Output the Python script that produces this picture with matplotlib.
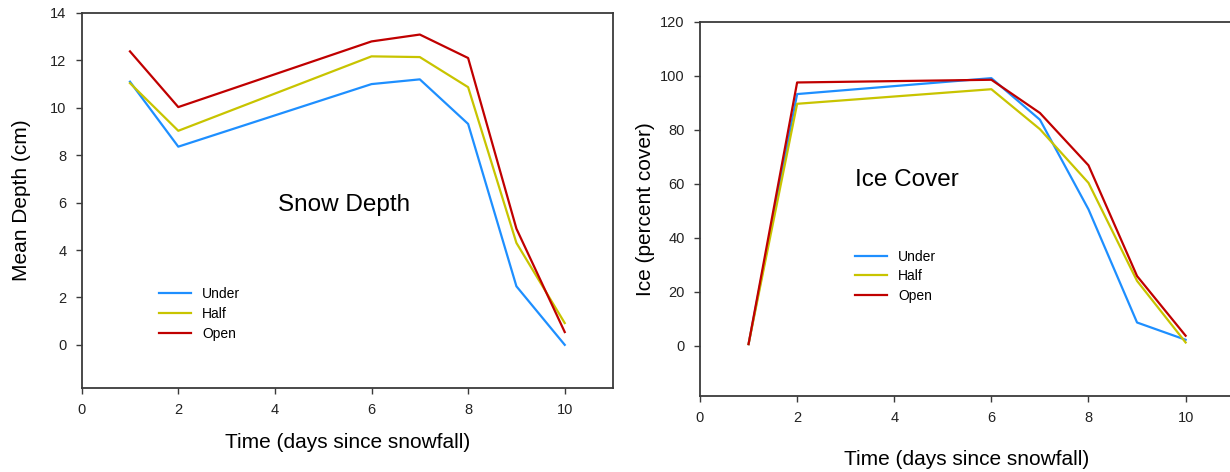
import matplotlib
matplotlib.use("Agg")
import matplotlib.pyplot as plt

plt.rcParams['font.family'] = ['Liberation Sans', 'DejaVu Sans']

# Days sampled
days = [1, 2, 6, 7, 8, 9, 10]

# Snow depth (cm)
depth_under = [11.1, 8.36, 11.0, 11.2, 9.32, 2.47, 0.0]
depth_half = [11.04, 9.03, 12.17, 12.14, 10.87, 4.3, 0.92]
depth_open = [12.38, 10.03, 12.8, 13.09, 12.1, 4.9, 0.54]

# Ice cover (percent)
ice_under = [0.6, 93.2, 99.1, 83.7, 50.5, 8.6, 2.2]
ice_half = [0.6, 89.6, 95.0, 80.2, 60.3, 24.0, 1.2]
ice_open = [0.6, 97.5, 98.5, 86.2, 66.8, 25.8, 3.7]

labels = ["Under", "Half", "Open"]
colors = ["#1E8FFF", "#C8C400", "#C00000"]

fig = plt.figure(figsize=(12.3, 4.72), dpi=100)
ax1 = fig.add_axes([0.0664, 0.178, 0.432, 0.7945])
ax2 = fig.add_axes([0.5691, 0.1617, 0.4343, 0.7923])

for ax in (ax1, ax2):
    for s in ax.spines.values():
        s.set_color("#3a3a3a")
        s.set_linewidth(1.3)
    ax.tick_params(direction="out", length=4, width=1, color="#3a3a3a",
                   labelsize=10.5, labelcolor="#222222", pad=7)
    ax.set_xlim(0, 11)
    ax.set_xticks([0, 2, 4, 6, 8, 10])

# Snow depth panel
for vals, lab, c in zip([depth_under, depth_half, depth_open], labels, colors):
    ax1.plot(days, vals, color=c, lw=1.6, label=lab)
ax1.set_ylim(-1.82, 14)
ax1.set_yticks(range(0, 15, 2))
ax1.set_xlabel("Time (days since snowfall)", fontsize=15, labelpad=11)
ax1.set_ylabel("Mean Depth (cm)", fontsize=15, labelpad=14)
ax1.text(5.44, 5.9, "Snow Depth", fontsize=17.5, ha="center", va="center")
ax1.legend(loc="upper left", bbox_to_anchor=(0.135, 0.285), frameon=False,
           fontsize=10, handlelength=2.3, handletextpad=0.8, labelspacing=0.45,
           borderaxespad=0)

# Ice cover panel
for vals, lab, c in zip([ice_under, ice_half, ice_open], labels, colors):
    ax2.plot(days, vals, color=c, lw=1.6, label=lab)
ax2.set_ylim(-18.5, 120)
ax2.set_yticks(range(0, 121, 20))
ax2.spines["right"].set_visible(False)
ax2.set_xlabel("Time (days since snowfall)", fontsize=15, labelpad=18)
ax2.set_ylabel("Ice (percent cover)", fontsize=15, labelpad=4)
ax2.text(4.26, 61.4, "Ice Cover", fontsize=17.5, ha="center", va="center")
ax2.legend(loc="upper left", bbox_to_anchor=(0.28, 0.405), frameon=False,
           fontsize=10, handlelength=2.3, handletextpad=0.8, labelspacing=0.4,
           borderaxespad=0)

fig.savefig("out.png", dpi=100)
